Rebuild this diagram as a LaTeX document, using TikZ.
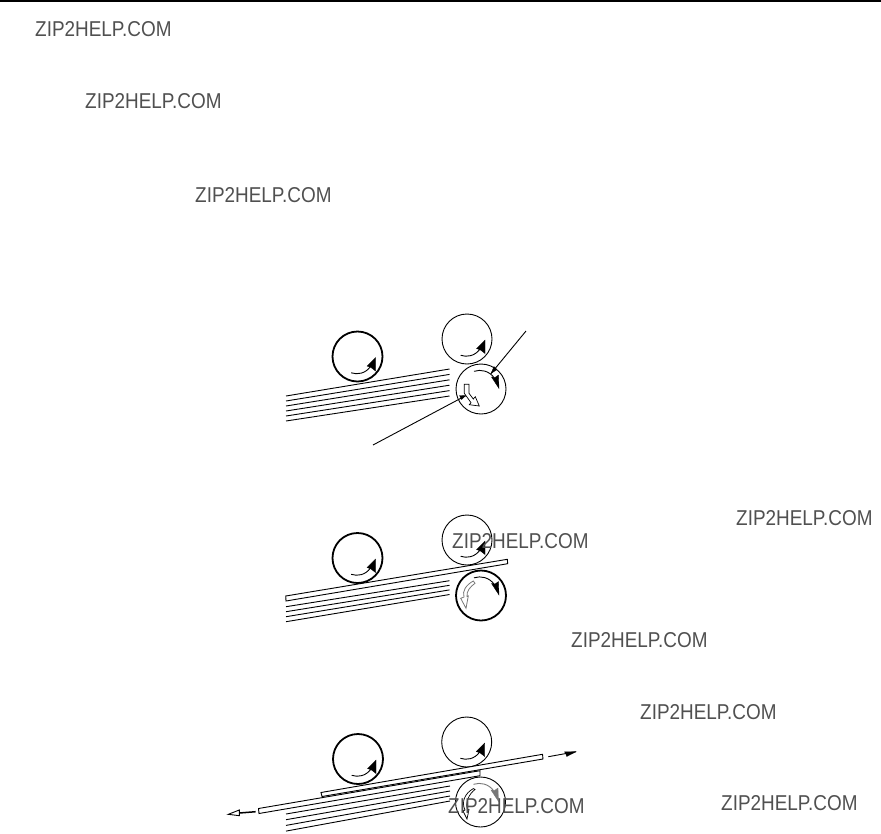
\documentclass[tikz,border=0pt]{standalone}
\usepackage{fontspec}
\setmainfont{Liberation Sans}
\newfontfamily\wmfont[FakeStretch=0.88]{Liberation Sans}
\usetikzlibrary{calc}
\definecolor{wm}{HTML}{505050}
\definecolor{soft}{HTML}{777777}
\tikzset{
  x=1pt,y=-1pt,
  thinline/.style={line width=0.9pt,draw=black},
  hairline/.style={line width=0.7pt,draw=black},
  softline/.style={line width=0.8pt,draw=soft},
  thickroll/.style={circle,draw=black,line width=1.8pt,minimum size=50pt,inner sep=0pt},
  thinroll/.style={circle,draw=black,line width=0.9pt,minimum size=50pt,inner sep=0pt},
  wmark/.style={text=wm,font=\wmfont\fontsize{21.5pt}{23pt}\selectfont,inner sep=0pt,anchor=base west},
  tipfill/.style={fill=black,draw=black,line width=0.3pt}
}
% roller rotation arrow: counter-clockwise from lower left to upper right
\newcommand{\ccwarrow}[1]{%
  \draw[thinline] ($(#1)+(-6.3,16.3)$) .. controls ($(#1)+(0,18.5)$) and ($(#1)+(8,17)$) .. ($(#1)+(13,10)$);
  \fill[tipfill] ($(#1)+(18,1)$) -- ($(#1)+(18,14.5)$) -- ($(#1)+(13.5,11)$) -- ($(#1)+(9.5,9.5)$) -- cycle;}
% roller rotation arrow: clockwise, colour as argument
\newcommand{\cwarrow}[2]{%
  \draw[line width=0.9pt,draw=#2] ($(#1)+(-7,-17.7)$) .. controls ($(#1)+(0,-20)$) and ($(#1)+(8,-18)$) .. ($(#1)+(13,-11.5)$);
  \fill[fill=#2,draw=#2,line width=0.3pt] ($(#1)+(18,-0.5)$) -- ($(#1)+(10.5,-12)$) -- ($(#1)+(14,-11.5)$) -- ($(#1)+(17.5,-14)$) -- cycle;}
\begin{document}
\begin{tikzpicture}
\useasboundingbox (0,0) rectangle (881,833);
\draw[line width=2pt] (0,1) -- (881,1);
% watermarks
\node[wmark] at (35,36) {ZIP2HELP.COM};
\node[wmark] at (85,108) {ZIP2HELP.COM};
\node[wmark] at (195,202) {ZIP2HELP.COM};
% frame 1
\node[thickroll] (a1) at (357.5,356.5) {};
\node[thinroll] (b1) at (467,339) {};
\node[thinroll] (c1) at (481,389) {};
\foreach \i in {0,...,5}{
  \coordinate (s1l\i) at (286,396+5*\i);
  \coordinate (s1r\i) at (449.5,369+5.4*\i);
  \draw[thinline] (s1l\i) -- (s1r\i);
}
\ccwarrow{a1} \ccwarrow{b1} \cwarrow{c1}{black}
\coordinate (l1a) at (526,331);
\coordinate (l1at) at (491,373.5);
\coordinate (l1b) at (373,445);
\coordinate (l1bt) at (465.7,395.7);
\draw[thinline] (l1a) -- (l1at);
\fill[tipfill] (l1at) -- (494,366.5) -- (497,369.5) -- cycle;
\draw[hairline,fill=white] (464.3,384.3) -- (469,384.3) -- (469,393.3) -- (473.3,399) -- (475.3,396.7) -- (479.3,406) -- (469.3,404.7) -- (471,402.7) -- (464.3,393.3) -- cycle;
\draw[thinline] (l1b) -- (l1bt);
\fill[tipfill] (l1bt) -- (459.5,395.5) -- (461.5,399.5) -- cycle;
% frame 2
\node[thickroll] (a2) at (357.5,558) {};
\node[thinroll] (b2) at (467,540) {};
\node[thickroll] (c2) at (481,595.5) {};
\draw[thinline] (285.7,596) -- (507.3,559.3) -- (507.7,563.7) -- (286,601) -- cycle;
\foreach \i in {0,...,3}{
  \draw[thinline] (286,606.7+5*\i) -- (449.5,580.7+4.6*\i);
}
\ccwarrow{a2} \ccwarrow{b2} \cwarrow{c2}{black}
\draw[softline,fill=white] (473.3,581) .. controls (466,585) and (462,591) .. (464,597) -- (460.7,598.3) -- (466,608.3) -- (468.3,596) -- (467,596.5) .. controls (466.5,591) and (470,587) .. (475,583.3) -- cycle;
\node[wmark] at (452,548) {ZIP2HELP.COM};
\node[wmark] at (736,525) {ZIP2HELP.COM};
\node[wmark] at (571,647) {ZIP2HELP.COM};
% frame 3
\node[thickroll] (a3) at (358,759) {};
\node[thinroll] (b3) at (466.7,742) {};
\node[thinroll] (c3) at (480.5,802) {};
\draw[thinline,fill=white] (321,792.5) -- (542.5,754.3) -- (543,759) -- (322,796.5) -- cycle;
\draw[thinline,fill=white] (258.5,808.5) -- (480,770.7) -- (480,775.7) -- (259,813.5) -- cycle;
\foreach \i in {0,...,3}{
  \draw[thinline] (286,814+5.7*\i) -- (450,786+5*\i);
}
\ccwarrow{a3} \ccwarrow{b3} \cwarrow{c3}{soft}
\draw[hairline,fill=white] (473.5,788.5) .. controls (465,793) and (461,802) .. (465,810) -- (463,811) -- (467,819) -- (469,809.5) -- (467.5,810) .. controls (465,802) and (469,794) .. (475,789.5) -- cycle;
\coordinate (r3a) at (548.3,756.7);
\coordinate (r3b) at (576,751.7);
\draw[thinline] (r3a) -- (r3b);
\fill[tipfill] (r3b) -- (566.7,756.5) -- (566,754.2) -- (564.5,751.8) -- cycle;
\coordinate (l3a) at (255.7,811.7);
\coordinate (l3b) at (228.3,814.3);
\draw[line width=1.5pt] (l3a) -- (239.3,813);
\draw[thinline,fill=white] (l3b) -- (239.3,810) -- (239.3,815.7) -- cycle;
\node[wmark] at (640,719) {ZIP2HELP.COM};
\node[wmark] at (448,813) {ZIP2HELP.COM};
\node[wmark] at (721,810) {ZIP2HELP.COM};
\end{tikzpicture}
\end{document}
